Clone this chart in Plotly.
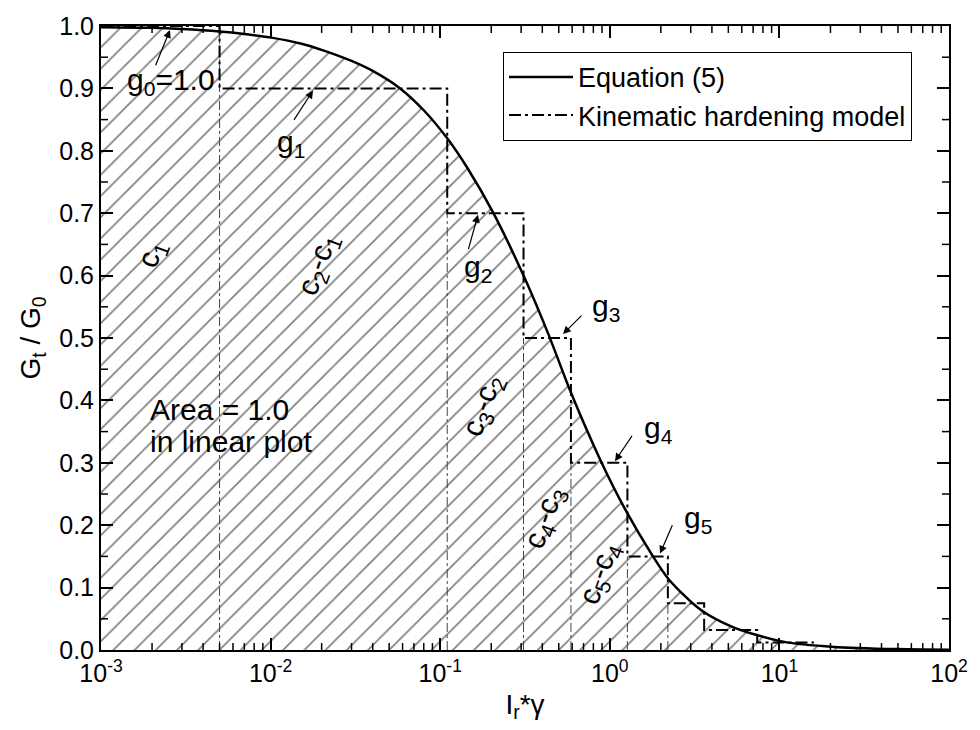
import plotly.graph_objects as go

# ---- data ----
curve_x = [0.001, 0.002, 0.003, 0.005, 0.007, 0.0103, 0.015, 0.0204, 0.030, 0.040, 0.058,
           0.080, 0.110, 0.145, 0.206, 0.310, 0.436, 0.589, 0.885, 1.24, 1.75, 2.23,
           3.45, 5.4, 10.7, 21, 50, 100]
curve_g = [0.998, 0.997, 0.995, 0.991, 0.987, 0.981, 0.972, 0.961, 0.944, 0.928, 0.900,
           0.865, 0.820, 0.772, 0.700, 0.600, 0.505, 0.413, 0.303, 0.224, 0.155, 0.113,
           0.064, 0.036, 0.013, 0.005, 0.0015, 0.0005]

step_edges = [0.001, 0.005, 0.11, 0.31, 0.59, 1.27, 2.2, 3.6, 7.4, 16]
step_g = [1.0, 0.9, 0.7, 0.5, 0.3, 0.15, 0.075, 0.032, 0.012]

x_tick_exps = [-3, -2, -1, 0, 1, 2]
x_minor_digits = [2, 3, 4, 5, 6, 7, 8, 9]
y_ticks = [0.0, 0.1, 0.2, 0.3, 0.4, 0.5, 0.6, 0.7, 0.8, 0.9, 1.0]
y_minor = [0.05, 0.15, 0.25, 0.35, 0.45, 0.55, 0.65, 0.75, 0.85, 0.95]

FONT = "Arial, Liberation Sans, sans-serif"

# pixel -> data helpers for annotation placement
L, R, T, B = 101, 949, 22, 650
def lx(px):
    return -3 + (px - L) / ((R - L) / 5)
def vy(py):
    return (B - py) / (B - T)

fig = go.Figure()

# hatched area under the curve
fig.add_trace(go.Scatter(
    x=curve_x, y=curve_g, mode="lines", line=dict(width=0, shape="spline", smoothing=0.8),
    fill="tozeroy", fillcolor="rgba(0,0,0,0)",
    fillpattern=dict(shape="/", size=15, solidity=0.11, fgcolor="black", bgcolor="white"),
    showlegend=False, hoverinfo="skip"))

# thin vertical boundary lines
vx, vyv = [], []
for i in range(1, 7):
    top = step_g[0] if i == 1 else step_g[i]
    vx += [step_edges[i], step_edges[i], None]
    vyv += [0, top, None]
fig.add_trace(go.Scatter(x=vx, y=vyv, mode="lines",
                         line=dict(color="#444444", width=1, dash="dashdot"),
                         showlegend=False, hoverinfo="skip"))

# kinematic hardening steps
sx = step_edges[:-1] + [step_edges[-1]]
sy = step_g + [step_g[-1]]
fig.add_trace(go.Scatter(x=sx, y=sy, mode="lines", line_shape="hv",
                         line=dict(color="black", width=2, dash="12px,4px,3px,4px"),
                         name="Kinematic hardening model", legendrank=2))

# equation curve
fig.add_trace(go.Scatter(x=curve_x, y=curve_g, mode="lines",
                         line=dict(color="black", width=2.5, shape="spline", smoothing=0.8),
                         name="Equation (5)", legendrank=1))

# arrows (tail px -> tip px)
arrows = [((155, 63), (170, 26)), ((293, 118), (313, 87)), ((468, 248), (478, 212)),
          ((583, 312), (563, 332)), ((633, 433), (615, 460)), ((673, 523), (660, 553))]
for (tx, ty), (hx, hy) in arrows:
    fig.add_annotation(x=lx(hx), y=vy(hy), ax=lx(tx), ay=vy(ty), xref="x", yref="y",
                       axref="x", ayref="y", text="", showarrow=True,
                       arrowhead=2, arrowsize=1.3, arrowwidth=1.2, arrowcolor="black")

g_labels = [("g<sub>0</sub>=1.0", 125, 78), ("g<sub>1</sub>", 275, 140), ("g<sub>2</sub>", 462, 266),
            ("g<sub>3</sub>", 590, 305), ("g<sub>4</sub>", 642, 428), ("g<sub>5</sub>", 682, 519)]
for txt, px, py in g_labels:
    fig.add_annotation(x=lx(px), y=vy(py), xref="x", yref="y", text=txt, showarrow=False,
                       xanchor="left", yanchor="middle", font=dict(size=30, color="black", family=FONT))

c_labels = [("c<sub>1</sub>", 152, 252), ("c<sub>2</sub>-c<sub>1</sub>", 318, 263),
            ("c<sub>3</sub>-c<sub>2</sub>", 483, 405), ("c<sub>4</sub>-c<sub>3</sub>", 545, 518),
            ("c<sub>5</sub>-c<sub>4</sub>", 600, 573)]
for txt, px, py in c_labels:
    fig.add_annotation(x=lx(px), y=vy(py), xref="x", yref="y", text=txt, showarrow=False,
                       textangle=-70, font=dict(size=30, color="black", family=FONT))

for txt, py in [("Area = 1.0", 408), ("in linear plot", 440)]:
    fig.add_annotation(x=lx(148), y=vy(py), xref="x", yref="y", text=txt, showarrow=False,
                       xanchor="left", yanchor="middle", font=dict(size=30, color="black", family=FONT))

# minor ticks (inside, on all four sides) drawn as shapes
MINOR_LEN = 7
TICKCOL = "black"
x_minor_vals = [d * 10 ** e for e in x_tick_exps[:-1] for d in x_minor_digits]
for v in x_minor_vals:
    for y0, y1 in [(0, MINOR_LEN / (B - T)), (1, 1 - MINOR_LEN / (B - T))]:
        fig.add_shape(type="line", xref="x", yref="y domain", x0=v, x1=v, y0=y0, y1=y1,
                      line=dict(color=TICKCOL, width=1.5), layer="above")
for v in y_minor:
    for x0, x1 in [(0, MINOR_LEN / (R - L)), (1, 1 - MINOR_LEN / (R - L))]:
        fig.add_shape(type="line", xref="x domain", yref="y", x0=x0, x1=x1, y0=v, y1=v,
                      line=dict(color=TICKCOL, width=1.5), layer="above")

axis_common = dict(showline=True, linewidth=2, linecolor="black", mirror="allticks",
                   ticks="inside", ticklen=12, tickwidth=1.5, tickcolor=TICKCOL,
                   showgrid=False, zeroline=False,
                   tickfont=dict(size=25, color="black", family=FONT))

fig.update_xaxes(type="log", range=[-3, 2], tickmode="array",
                 tickvals=[10 ** e for e in x_tick_exps],
                 ticktext=[f"10<sup>{e}</sup>" for e in x_tick_exps],
                 title=dict(text="I<sub>r</sub>*γ", font=dict(size=28, color="black", family=FONT), standoff=8),
                 **axis_common)
fig.update_yaxes(range=[0, 1], tickmode="array", tickvals=y_ticks,
                 ticktext=[f"{v:.1f}" for v in y_ticks],
                 title=dict(text="G<sub>t</sub> / G<sub>0</sub>", font=dict(size=28, color="black", family=FONT), standoff=10),
                 **axis_common)

fig.update_layout(
    width=980, height=730, margin=dict(l=L, r=980 - R, t=T, b=730 - B),
    plot_bgcolor="white", paper_bgcolor="white",
    font=dict(family=FONT, color="black"),
    legend=dict(x=(912 - L) / (R - L), y=vy(48), xanchor="right", yanchor="top",
                bgcolor="white", bordercolor="black", borderwidth=1, itemwidth=64,
                font=dict(size=27, color="black", family=FONT), tracegroupgap=0),
)

fig.write_html("out.html")
